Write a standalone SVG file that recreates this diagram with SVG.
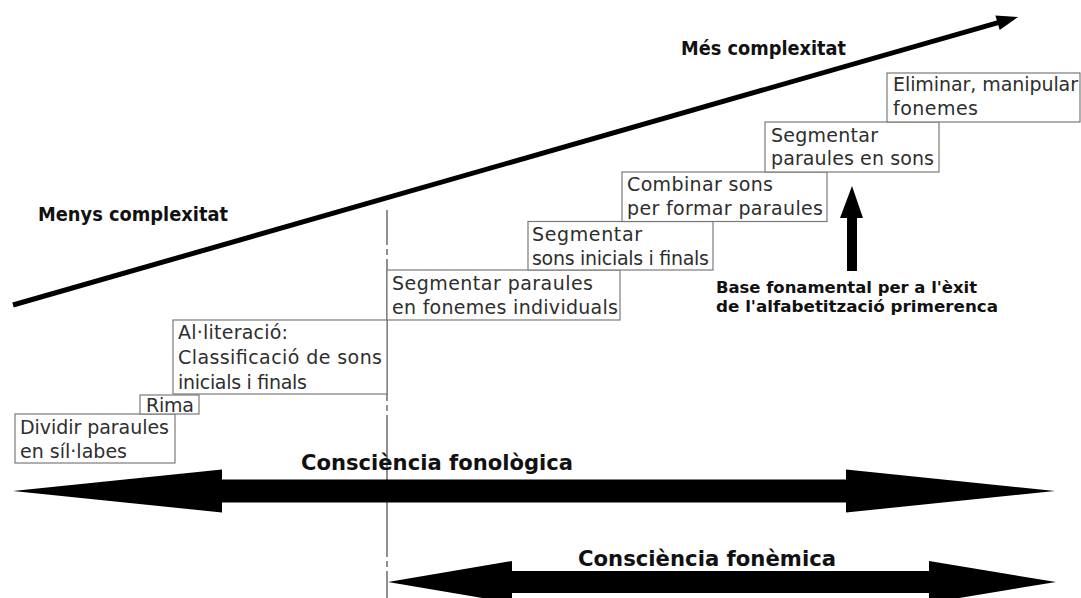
<svg xmlns="http://www.w3.org/2000/svg" width="1081" height="598" viewBox="0 0 1081 598">
<style>
.box{fill:#fff;stroke:#7a7a7a;stroke-width:1.2}
.t{font-family:"DejaVu Sans","Liberation Sans",sans-serif;font-size:19px;fill:#2e2e2e}
.b{font-family:"DejaVu Sans","Liberation Sans",sans-serif;font-weight:bold;fill:#111}
.blk{fill:#000}
</style>
<rect width="1081" height="598" fill="#fff"/>
<g id="connectors">
  <line id="divider" x1="387" y1="210" x2="387" y2="598" stroke="#555" stroke-width="1.3" stroke-dasharray="142 4 6 4" stroke-dashoffset="107"/>
  <g id="complexity-arrow">
    <line x1="13" y1="305" x2="999" y2="22.3" stroke="#000" stroke-width="5"/>
    <polygon class="blk" points="1018,17 999.7,30 995.4,15.5"/>
  </g>
  <polygon id="arrow-fonologica" class="blk" points="13,491 222,469.5 222,479.5 846,479.5 846,469.5 1055,491 846,512.5 846,502.5 222,502.5 222,512.5"/>
  <polygon id="arrow-fonemica" class="blk" points="388,582 512,561 512,571 929,571 929,561 1056,582 929,603 929,593 512,593 512,603"/>
  <polygon id="arrow-base" class="blk" points="852,186 863,218 857,218 857,271 847,271 847,218 840,218"/>
</g>
<g id="node-dividir">
  <rect class="box" x="15" y="414" width="160" height="49"/>
  <text class="t" x="20" y="433.5" textLength="149">Dividir paraules</text>
  <text class="t" x="20" y="457.5" textLength="107">en síl·labes</text>
</g>
<g id="node-rima">
  <rect class="box" x="140" y="395" width="59" height="19"/>
  <text class="t" x="146" y="412" textLength="48">Rima</text>
</g>
<g id="node-alliteracio">
  <rect class="box" x="173" y="320" width="214" height="74"/>
  <text class="t" x="178" y="339" textLength="110">Al·literació:</text>
  <text class="t" x="178" y="364" textLength="204">Classificació de sons</text>
  <text class="t" x="178" y="389" textLength="129">inicials i finals</text>
</g>
<g id="node-fonemes-individuals">
  <rect class="box" x="387" y="270" width="233" height="50"/>
  <text class="t" x="392" y="290" textLength="201">Segmentar paraules</text>
  <text class="t" x="392" y="314" textLength="226">en fonemes individuals</text>
</g>
<g id="node-sons-inicials">
  <rect class="box" x="528" y="221.5" width="185" height="48.5"/>
  <text class="t" x="532" y="240.5" textLength="110">Segmentar</text>
  <text class="t" x="532" y="264.5" textLength="177">sons inicials i finals</text>
</g>
<g id="node-combinar">
  <rect class="box" x="622" y="172" width="205" height="49.5"/>
  <text class="t" x="627" y="191" textLength="146">Combinar sons</text>
  <text class="t" x="627" y="214.5" textLength="196">per formar paraules</text>
</g>
<g id="node-paraules-sons">
  <rect class="box" x="765" y="122" width="174" height="50"/>
  <text class="t" x="771" y="141.5" textLength="107">Segmentar</text>
  <text class="t" x="771" y="164.5" textLength="163">paraules en sons</text>
</g>
<g id="node-eliminar">
  <rect class="box" x="887" y="73" width="193" height="49"/>
  <text class="t" x="893" y="91" textLength="185">Eliminar, manipular</text>
  <text class="t" x="893" y="115" textLength="85">fonemes</text>
</g>
<g id="labels">
  <text class="b" x="38" y="221" font-size="19.5" textLength="190" lengthAdjust="spacingAndGlyphs">Menys complexitat</text>
  <text class="b" x="681" y="55" font-size="19.5" textLength="165" lengthAdjust="spacingAndGlyphs">Més complexitat</text>
  <text class="b" x="716" y="293" font-size="16" textLength="261" lengthAdjust="spacingAndGlyphs">Base fonamental per a l'èxit</text>
  <text class="b" x="716" y="311.5" font-size="16" textLength="282" lengthAdjust="spacingAndGlyphs">de l'alfabetització primerenca</text>
  <text class="b" x="301" y="470" font-size="21" textLength="272" lengthAdjust="spacingAndGlyphs">Consciència fonològica</text>
  <text class="b" x="578" y="566" font-size="20.5" textLength="258" lengthAdjust="spacingAndGlyphs">Consciència fonèmica</text>
</g>
</svg>
